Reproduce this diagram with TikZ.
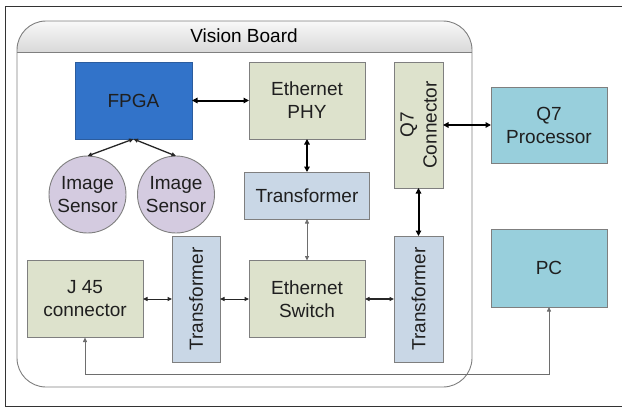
\documentclass[tikz,border=0pt]{standalone}
\usepackage{fontspec}
\setmainfont{Liberation Sans}
\usetikzlibrary{arrows.meta,calc}
\definecolor{fpgablue}{HTML}{3273C9}
\definecolor{fpgaedge}{HTML}{2B5C9E}
\definecolor{olive}{HTML}{DDE2CC}
\definecolor{xfmr}{HTML}{C9D7E6}
\definecolor{lavender}{HTML}{D4CBE0}
\definecolor{cyanbox}{HTML}{98CFDC}
\definecolor{edgegray}{HTML}{7F7F7F}
\definecolor{wiregray}{HTML}{6E6E6E}
\begin{document}
\begin{tikzpicture}[x=1pt,y=-1pt,
  font=\fontsize{19}{23}\selectfont,
  box/.style={draw=edgegray, line width=0.9pt, inner sep=0pt, outer sep=0pt,
              align=center, text=black!88},
  blk/.style={box, fill=olive},
  tfm/.style={box, fill=xfmr},
  hostbox/.style={box, fill=cyanbox},
  sensor/.style={box, circle, fill=lavender, minimum size=77pt},
  bus/.style={{Triangle[length=5.5pt,width=5.5pt]}-{Triangle[length=5.5pt,width=5.5pt]},
              line width=2pt, black},
  link/.style={{Triangle[length=4.5pt,width=4pt]}-{Triangle[length=4.5pt,width=4pt]},
               line width=1pt, black!85},
  thinlink/.style={{Triangle[length=4.5pt,width=4pt]}-{Triangle[length=4.5pt,width=4pt]},
               line width=0.8pt, wiregray}
]
\useasboundingbox (0,0) rectangle (622,408);

% page frame
\draw[line width=1pt, black!80] (622,6) -- (5,6) -- (5,406.5) -- (622,406.5);

% board outline with shaded title band
\begin{scope}
  \clip[rounded corners=29pt] (17,21) rectangle (472,387);
  \shade[top color=gray!5, bottom color=gray!30] (17,21) rectangle (472,52);
\end{scope}
\draw[line width=0.9pt, edgegray, rounded corners=29pt] (17,21) rectangle (472,387);
\draw[line width=0.9pt, edgegray] (17,52) -- (472,52);
\node (title) at (244,36) {Vision Board};

% blocks
\node[box, fill=fpgablue, draw=fpgaedge, minimum width=117pt, minimum height=77pt] (fpga) at (133.5,100.5) {FPGA};
\node[blk, minimum width=116pt, minimum height=77pt] (phy) at (307,100.5) {Ethernet\\PHY};
\node[blk, rotate=90, minimum width=126pt, minimum height=49pt] (q7c) at (418.5,125) {Q7\\Connector};
\node[hostbox, minimum width=116pt, minimum height=76pt] (q7p) at (549,125) {Q7\\Processor};
\node[tfm, minimum width=125pt, minimum height=47pt] (trt) at (307,195.5) {Transformer};
\node[sensor] (s1) at (87.5,194.5) {Image\\Sensor};
\node[sensor] (s2) at (176,194.5) {Image\\Sensor};
\node[blk, minimum width=116pt, minimum height=77pt] (j45) at (85,299) {J 45\\connector};
\node[tfm, rotate=90, minimum width=126pt, minimum height=48pt] (trl) at (196,299) {Transformer};
\node[blk, minimum width=116pt, minimum height=77pt] (sw) at (307,299) {Ethernet\\Switch};
\node[tfm, rotate=90, minimum width=126pt, minimum height=49pt] (trr) at (418.5,299) {Transformer};
\node[hostbox, minimum width=116pt, minimum height=78pt] (pc) at (549,268) {PC};

% connections
\draw[bus] (fpga) -- (phy);
\draw[bus] (phy) -- (trt);
\draw[bus] (q7c) -- (q7p);
\draw[bus] (q7c) -- (trr);
\draw[thinlink] (trt) -- (sw);
\draw[link, line width=1.5pt] (sw) -- (trr);
\draw[link] (j45) -- (trl);
\draw[link] (trl) -- (sw);
\draw[link, line width=1.3pt] (fpga.south) -- (s1.north);
\draw[link, line width=1.3pt] (fpga.south) -- (s2.north);
\coordinate (busline) at (0,374);
\draw[thinlink] (j45.south) -- (j45.south |- busline) -- (pc.south |- busline) -- (pc.south);
\end{tikzpicture}
\end{document}
